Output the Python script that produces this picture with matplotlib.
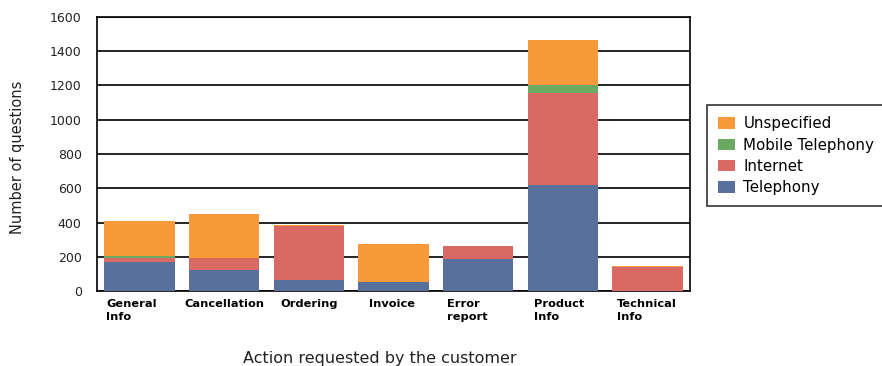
import matplotlib
matplotlib.use("Agg")
import matplotlib.pyplot as plt
import numpy as np

categories = ["General\nInfo", "Cancellation", "Ordering", "Invoice", "Error\nreport", "Product\nInfo", "Technical\nInfo"]
telephony = [170, 125, 65, 50, 185, 620, 0]
internet = [25, 70, 315, 0, 75, 535, 138]
mobile = [10, 0, 0, 0, 0, 50, 0]
unspecified = [205, 255, 5, 222, 0, 262, 7]
yticks = [0, 200, 400, 600, 800, 1000, 1200, 1400, 1600]

colors = {"Telephony": "#58709B", "Internet": "#D86A63",
          "Mobile Telephony": "#6BAA63", "Unspecified": "#F99A3A"}

fig = plt.figure(figsize=(8.82, 3.66), dpi=100)
ax = fig.add_axes([97/882, 1-291/366, 593/882, 274/366])

x = np.arange(len(categories))
w = 0.83
bottom = np.zeros(len(categories))
handles = {}
for name, vals in [("Telephony", telephony), ("Internet", internet),
                   ("Mobile Telephony", mobile), ("Unspecified", unspecified)]:
    v = np.array(vals, dtype=float)
    handles[name] = ax.bar(x, v, w, bottom=bottom, color=colors[name], zorder=3, linewidth=0)
    bottom += v

ax.set_xlim(-0.5, len(categories) - 0.5)
ax.set_ylim(0, 1600)
ax.set_yticks(yticks)
ax.set_yticklabels([str(t) for t in yticks], fontsize=9, family="DejaVu Sans", color="#222222")
ax.yaxis.grid(True, color="black", linewidth=1.2, zorder=0)
ax.tick_params(axis="y", length=0, pad=11)
ax.set_xticks([])
for s in ax.spines.values():
    s.set_color("black")
    s.set_linewidth(1.2)

label_pos = [0.0152, 0.1467, 0.3086, 0.4587, 0.5902, 0.7369, 0.8769]
for lab, px in zip(categories, label_pos):
    ax.text(px, -0.03, lab, transform=ax.transAxes, ha="left", va="top",
            fontsize=8.2, fontweight="bold", family="DejaVu Sans", linespacing=1.3)

fig.text(380/882, 1-358/366, "Action requested by the customer", ha="center", va="center",
         fontsize=11.5, family="DejaVu Sans", color="#222222")
fig.text(18/882, 1-157/366, "Number of questions", rotation=90, ha="center", va="center",
         fontsize=10.5, family="DejaVu Sans", color="#222222")

order = ["Unspecified", "Mobile Telephony", "Internet", "Telephony"]
leg = fig.legend([handles[n] for n in order], order, loc="upper left",
                 bbox_to_anchor=(707/882, 1-105/366), frameon=True, fancybox=False,
                 prop={"family": "DejaVu Sans", "size": 10.8}, handlelength=1.13,
                 handleheight=0.8, handletextpad=0.55, borderpad=0.75, labelspacing=0.42,
                 borderaxespad=0)
leg.get_frame().set_edgecolor("black")
leg.get_frame().set_linewidth(1.2)

fig.savefig("out.png", dpi=100)
